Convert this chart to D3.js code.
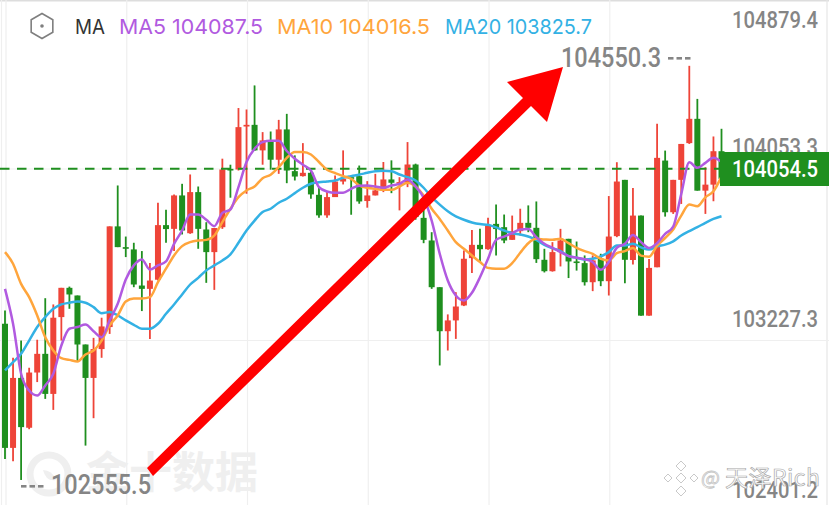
<!DOCTYPE html>
<html><head><meta charset="utf-8">
<script src="https://cdn.jsdelivr.net/npm/d3@7"></script>
<style>html,body{margin:0;padding:0;background:#fff;overflow:hidden}svg{display:block}</style>
</head><body><svg id="c" width="829" height="505"></svg>
<script>
const highs=[103372,103144,103227,103096,103231,103431,103401,103481,103487,103444,103208,103240,103337,103777,103974,103728,103698,103658,103600,103891,103857,103931,103982,104027,103969,103797,103769,104103,104074,104347,104340,104456,104231,104234,104290,104319,104119,104178,104054,103966,103942,104022,104143,104022,104070,103995,104030,104087,104095,104014,104183,104079,103862,103749,103484,103353,103460,103661,103760,103765,103818,103882,103834,103829,103862,103878,103897,103669,103701,103765,103717,103704,103637,103637,103645,103923,104086,104001,103962,103829,103620,104271,104142,104001,104174,104550.3,104391,104062,104210,104247];
const opens=[103308,102710,103047,102807,103073,103163,102970,103340,103481,103444,103208,103047,103186,103292,103777,103677,103666,103492,103476,103520,103783,103765,103926,103744,103942,103762,103653,103773,104054,104051,104258,104266,104143,104191,104098,104244,104043,104019,104035,103929,103830,103918,103993,104014,104019,103899,103926,103950,104003,103987,103987,104075,103818,103709,103484,103272,103324,103396,103624,103688,103667,103789,103773,103712,103754,103794,103770,103616,103561,103653,103717,103608,103600,103508,103621,103513,103730,104001,103615,103829,103347,103580,104094,103845,104001,104178,104295,103949,103978,104139];
const closes=[102710,103047,102810,103073,103163,102970,103337,103481,103449,103208,103047,103186,103295,103777,103677,103669,103497,103476,103516,103783,103764,103926,103757,103942,103765,103653,103769,104051,104046,104255,104266,104143,104191,104098,104244,104046,104017,104035,103931,103830,103918,103993,104006,104006,103897,103926,103950,104003,103987,103990,104075,103822,103712,103484,103272,103324,103391,103621,103688,103667,103781,103764,103709,103754,103794,103770,103619,103561,103653,103709,103608,103601,103508,103613,103513,103728,103993,103616,103829,103347,103577,104107,103845,104001,104174,104295,103949,103978,104139,104006];
const lows=[102657,102646,102555.5,102800,103027,102946,102893,103227,103380,103128,102721,102853,103144,103259,103677,103629,103484,103369,103235,103516,103698,103658,103738,103741,103669,103505,103471,103765,103915,104046,103934,104140,104074,104050,104030,103985,103998,104017,103910,103818,103818,103918,103979,103833,103886,103867,103926,103942,103937,103854,103966,103809,103696,103476,103107,103179,103235,103393,103552,103605,103664,103637,103696,103712,103733,103749,103601,103555,103559,103584,103528,103564,103492,103465,103489,103444,103725,103503,103593,103347,103347,103580,103824,103837,103885,104174,103949,103837,103898,104000];
const ma5=[103476,103308,103067,102986,102962,103011,103067,103203,103284,103292,103304,103272,103243,103324,103404,103521,103589,103618,103569,103589,103608,103693,103757,103834,103834,103809,103778,103842,103858,103966,104087,104151,104183,104189,104189,104140,104103,104074,104046,103966,103945,103939,103939,103958,103973,103974,103969,103963,103974,103982,104003,103969,103915,103805,103645,103516,103444,103420,103457,103532,103621,103712,103728,103744,103762,103764,103725,103693,103674,103653,103634,103626,103619,103605,103568,103605,103674,103693,103736,103701,103673,103696,103741,103776,103933,104086,104059,104083,104107,104087.5];
const ma10=[103653,103597,103500,103436,103348,103243,103179,103142,103134,103126,103160,103179,103227,103300,103348,103415,103430,103430,103436,103508,103573,103637,103682,103701,103709,103712,103733,103797,103862,103918,103950,103969,104009,104026,104062,104107,104135,104135,104123,104087,104050,104034,104019,104006,103974,103963,103958,103953,103953,103969,103987,103969,103926,103862,103813,103757,103701,103669,103637,103605,103577,103573,103573,103600,103650,103696,103717,103714,103712,103717,103696,103674,103658,103645,103621,103613,103648,103658,103673,103636,103631,103684,103721,103762,103829,103882,103874,103917,103946,104016.5];
const ma20=[103083,103123,103163,103227,103292,103340,103380,103401,103409,103415,103409,103388,103359,103364,103348,103324,103303,103284,103284,103308,103356,103401,103449,103497,103529,103565,103589,103613,103642,103698,103757,103805,103846,103862,103891,103910,103937,103963,103982,103989,103993,103998,104011,104019,104026,104035,104043,104045,104043,104027,104014,103998,103963,103918,103882,103850,103825,103809,103796,103788,103785,103772,103757,103744,103738,103728,103712,103688,103672,103658,103634,103626,103617,103621,103632,103653,103685,103685,103693,103676,103665,103681,103689,103705,103733,103754,103773,103794,103813,103825.7];
const axisTicks=["104879.4","104053.3","103227.3","102401.2"];
const gridPrices=[104053.3,103227.3];
const gridCandles=[0,15,30,45,60,75];
const legend=[["MA",null],["MA5 104087.5","ma5"],["MA10 104016.5","ma10"],["MA20 103825.7","ma20"]];

const RED="#ee4438",GREEN="#1f8f1f",COL={ma5:"#b15ae0",ma10:"#ffa53c",ma20:"#33b1e4"};
const NUM="Roboto,sans-serif";
const svg=d3.select("#c");
const x=d3.scaleLinear().domain([0,89]).range([5,721.5]);
const y=d3.scaleLinear().domain([102401.2,104879.4]).range([512,-2.5]);

// frame + grid
const grid=svg.append("g").attr("stroke","#efefef").attr("stroke-width",1.2);
grid.append("line").attr("x1",0).attr("x2",829).attr("y1",0.5).attr("y2",0.5).attr("stroke","#dddddd").attr("stroke-width",2);
grid.append("line").attr("x1",827).attr("x2",827).attr("y1",0).attr("y2",505).attr("stroke","#e6e6e6");
gridPrices.forEach(p=>grid.append("line").attr("x1",0).attr("x2",829).attr("y1",y(p)).attr("y2",y(p)));
gridCandles.forEach(i=>grid.append("line").attr("x1",x(i)+1).attr("x2",x(i)+1).attr("y1",0).attr("y2",505));
[1.5].forEach(v=>grid.append("line").attr("x1",v).attr("x2",v).attr("y1",0).attr("y2",505));

// brand watermark
const wm=svg.append("g");
wm.append("circle").attr("cx",49).attr("cy",474).attr("r",19).attr("fill","none").attr("stroke","#efefef").attr("stroke-width",7);
wm.append("path").attr("d","M43 470 Q52 470 56 480 Q46 482 43 470Z").attr("fill","#efefef");
wm.append("text").attr("x",86).attr("y",488).attr("font-family","'Noto Sans CJK SC'").attr("font-weight",700)
  .attr("font-size",43).attr("fill","#efefef").text("金十数据");

// candles
const idx=d3.range(highs.length);
const color=i=>closes[i]>=opens[i]?RED:GREEN;
const cg=svg.append("g");
cg.selectAll("line").data(idx).join("line")
  .attr("x1",x).attr("x2",x).attr("y1",i=>y(highs[i])).attr("y2",i=>y(lows[i]))
  .attr("stroke",color).attr("stroke-width",1.8);
cg.selectAll("rect").data(idx).join("rect")
  .attr("x",i=>x(i)-3).attr("width",6)
  .attr("y",i=>y(Math.max(opens[i],closes[i])))
  .attr("height",i=>Math.max(1.6,Math.abs(y(opens[i])-y(closes[i]))))
  .attr("fill",color);

// last price line
svg.append("line").attr("x1",0).attr("x2",720).attr("y1",y(104054.5)).attr("y2",y(104054.5))
  .attr("stroke",GREEN).attr("stroke-width",2).attr("stroke-dasharray","9.5 7.5");

// MA lines
const line=d3.line().x((d,i)=>x(i)).y(d=>y(d)).curve(d3.curveMonotoneX);
[[ma20,"ma20"],[ma10,"ma10"],[ma5,"ma5"]].forEach(([a,k])=>{
  svg.append("path").attr("d",line(a)).attr("fill","none").attr("stroke",COL[k]).attr("stroke-width",2.5).attr("stroke-linejoin","round");
});

// axis labels
const num=(g,s,xx,yy,size,w,anchor,fill)=>g.append("text").attr("x",xx).attr("y",yy)
  .attr("font-family",NUM).attr("font-weight",500).attr("font-size",size).attr("fill",fill||"#858585")
  .attr("text-anchor",anchor||"start").attr("textLength",w).attr("lengthAdjust","spacingAndGlyphs").text(s);
const lab=svg.append("g");
const labelY=[28,155,327,498];
axisTicks.forEach((t,i)=>num(lab,t,732,labelY[i],23,86));

// last price box
svg.append("rect").attr("x",720).attr("y",152).attr("width",109).attr("height",34).attr("fill",GREEN);
num(svg,"104054.5",732,177,23,86,"start","#ffffff");

// extreme labels and their leader dots
const dots=(x0,yy)=>d3.range(3).forEach(k=>svg.append("rect").attr("x",x0+k*8.5).attr("y",yy).attr("width",5.5).attr("height",2.6).attr("fill","#858585"));
num(svg,"104550.3",561,67,28,100);
dots(668,57);
num(svg,"102555.5",51,494,28,100);
dots(21,485);

// legend
const hex=d3.range(6).map(k=>{const a=Math.PI/3*k-Math.PI/2;return [42+12.5*Math.cos(a),26+12.5*Math.sin(a)];});
svg.append("polygon").attr("points",hex.map(p=>p.join(",")).join(" ")).attr("fill","none").attr("stroke","#7f7f7f").attr("stroke-width",1.6);
svg.append("circle").attr("cx",42).attr("cy",26).attr("r",1.8).attr("fill","#7f7f7f");
const lx=[75,119,277,445],lw=[30,144,153,147];
legend.forEach(([t,k],i)=>svg.append("text").attr("x",lx[i]).attr("y",34).attr("font-family","Inter,'Open Sans',sans-serif")
  .attr("font-size",20.5).attr("fill",k?COL[k]:"#333").attr("textLength",lw[i]).attr("lengthAdjust","spacingAndGlyphs").text(t));

// annotation arrow
svg.append("polygon").attr("fill","#ff0000")
  .attr("points","563,67 507,82 523,98 147,468 153,476 531,106 547,122");

// social watermark
const sw=svg.append("g");
const dia=(cx,cy,r)=>sw.append("path").attr("d",`M${cx} ${cy-r}L${cx+r} ${cy}L${cx} ${cy+r}L${cx-r} ${cy}Z`);
[[681,466,5],[681,491,5],[668,478,4],[694,478,4],[681,478,5]].forEach(d=>dia(...d).attr("fill","#fff").attr("stroke","#c9c9c9").attr("stroke-width",1));
sw.append("text").attr("x",701).attr("y",485).attr("font-family","'Noto Sans CJK SC'").attr("font-size",20).attr("fill","#fff").attr("stroke","#c4c4c4").attr("stroke-width",0.8).text("@");
sw.append("text").attr("x",725).attr("y",486).attr("font-family","'Noto Sans CJK SC'").attr("font-size",23).attr("fill","#fff").attr("stroke","#a8a8a8").attr("stroke-width",0.7).attr("textLength",95).text("天泽Rich");
</script></body></html>
